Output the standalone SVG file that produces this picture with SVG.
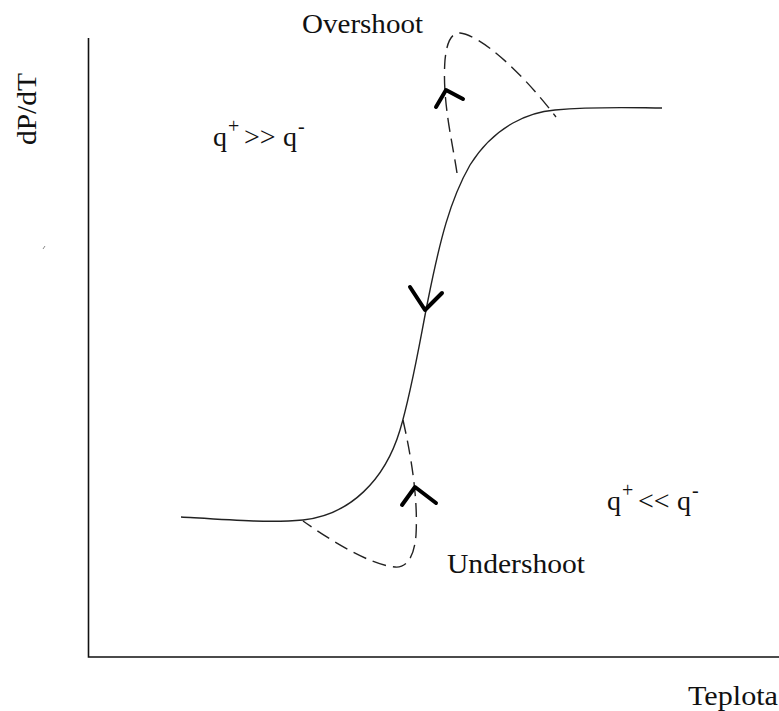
<svg xmlns="http://www.w3.org/2000/svg" width="779" height="711" viewBox="0 0 779 711">
<style>
text{font-family:"Liberation Serif","Times New Roman",serif;font-size:28px;fill:#111}
.sm{font-size:20px}
.axis{stroke:#111;stroke-width:1.6;fill:none}
.curve{stroke:#222;stroke-width:1.4;fill:none}
.dash{stroke:#222;stroke-width:1.4;fill:none;stroke-dasharray:14 7}
.arr{stroke:#000;stroke-width:4;fill:none;stroke-linecap:round;stroke-linejoin:round}
</style>
<rect width="779" height="711" fill="#fff"/>
<g id="axes">
<path class="axis" d="M88.5,38 V657 H779"/>
<path d="M43,249 L45,246" stroke="#888" stroke-width="1"/>
</g>
<g id="connectors">
<path id="main-curve" class="curve" d="M181,517 C230,520 270,523 303,520 C350,515 385,480 400,430 C412,390 420,340 428,300 C440,240 450,200 470,165 C495,125 530,112 555,110 C600,106 640,108 662,108"/>
<path id="overshoot-path" class="dash" d="M457,173 C452,140 442,100 445,60 C447,40 452,33 460,33 C480,35 520,70 556,117"/>
<path id="undershoot-path" class="dash" d="M403,420 C412,460 418,500 416,535 C414,560 405,568 395,567 C370,565 330,540 303,521"/>
<polyline class="arr" points="436,107 446,90 463,99"/>
<polyline class="arr" points="410,287 425,310 442,293"/>
<polyline class="arr" points="402,505 415,487 436,503"/>
</g>
<g id="label-overshoot"><text x="302" y="33" textLength="121" lengthAdjust="spacingAndGlyphs">Overshoot</text></g>
<g id="label-undershoot"><text x="447" y="573" textLength="138" lengthAdjust="spacingAndGlyphs">Undershoot</text></g>
<g id="label-teplota"><text x="688" y="705" textLength="90" lengthAdjust="spacingAndGlyphs">Teplota</text></g>
<g id="label-dpdt"><text transform="translate(36,145) rotate(-90)" textLength="72" lengthAdjust="spacingAndGlyphs">dP/dT</text></g>
<g id="label-gt"><text y="146"><tspan x="213">q</tspan><tspan class="sm" x="228" y="133">+</tspan><tspan x="244" y="146">&gt;&gt;</tspan><tspan x="283">q</tspan><tspan class="sm" x="298" y="133">-</tspan></text></g>
<g id="label-lt"><text y="510"><tspan x="607">q</tspan><tspan class="sm" x="622" y="497">+</tspan><tspan x="638" y="510">&lt;&lt;</tspan><tspan x="677">q</tspan><tspan class="sm" x="692" y="497">-</tspan></text></g>
</svg>
